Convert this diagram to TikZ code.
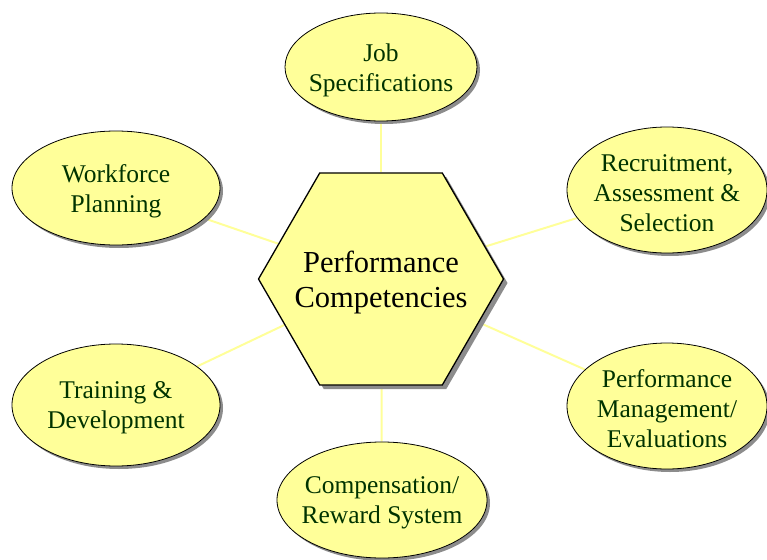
\documentclass[tikz,border=0pt]{standalone}
\usepackage{fontspec}
\setmainfont{Liberation Serif}
\usetikzlibrary{shapes.geometric,shadows,backgrounds}
\definecolor{paleyellow}{RGB}{255,255,153}
\definecolor{darkgreentext}{RGB}{0,51,0}
\begin{document}
\begin{tikzpicture}[x=1pt,y=-1pt,
	area/.style={ellipse,draw=black,line width=.8pt,fill=paleyellow,inner sep=0pt,
		drop shadow={shadow xshift=3pt,shadow yshift=-3pt,fill=black!45,opacity=1}},
	areatext/.style={align=center,text=darkgreentext,inner sep=0pt,yshift=-3pt,font=\fontsize{25.5}{30}\selectfont},
	core/.style={regular polygon,regular polygon sides=6,minimum size=245pt,draw=black,line width=1.3pt,
		fill=paleyellow,inner sep=0pt,
		drop shadow={shadow xshift=4pt,shadow yshift=-4pt,fill=black!45,opacity=1}},
	coretext/.style={align=center,inner sep=0pt,yshift=-4pt,font=\fontsize{30.5}{35}\selectfont},
	link/.style={draw=paleyellow,line width=2pt}]
		\useasboundingbox (0,0) rectangle (767,559);
		
		\node[core,label={[coretext]center:Performance\\Competencies}] (perf) at (381,279) {};
		
		\node[area,minimum width=192pt,minimum height=108pt,label={[areatext]center:Job\\Specifications}] (job) at (381,67) {};
		\node[area,minimum width=208pt,minimum height=114pt,label={[areatext]center:Workforce\\Planning}] (plan) at (116,188) {};
		\node[area,minimum width=200pt,minimum height=126pt,label={[areatext]center:Recruitment,\\Assessment \&\\Selection}] (recr) at (667,190) {};
		\node[area,minimum width=208pt,minimum height=122pt,label={[areatext]center:Training \&\\Development}] (train) at (116,405) {};
		\node[area,minimum width=200pt,minimum height=126pt,label={[areatext]center:Performance\\Management/\\Evaluations}] (eval) at (667,406) {};
		\node[area,minimum width=210pt,minimum height=116pt,label={[areatext]center:Compensation/\\Reward System}] (comp) at (382,500) {};
		
		\begin{pgfonlayer}{background}
		\foreach \n in {job,plan,recr,train,eval,comp} \draw[link] (perf) -- (\n);
		\end{pgfonlayer}
\end{tikzpicture}
\end{document}
